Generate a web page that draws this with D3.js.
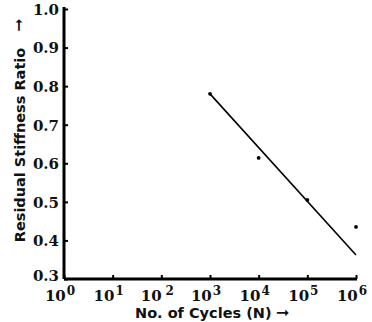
<!DOCTYPE html>
<html>
<head>
<meta charset="utf-8">
<script src="https://cdn.jsdelivr.net/npm/d3@7"></script>
<style>
  body { margin: 0; background: #fff; }
  .tick text { font-family: "DejaVu Serif", serif; font-weight: bold; font-size: 15px; fill: #111; }
  .title { font-family: "DejaVu Sans", Verdana, sans-serif; font-weight: bold; font-size: 14.5px; fill: #111; }
</style>
</head>
<body>
<div id="chart"></div>
<script>
// measured points
var cycles = [1e3, 1e4, 1e5, 1e6];
var stiffness = [0.78, 0.614, 0.505, 0.435];

// fitted straight line
var fitCycles = [1e3, 1e6];
var fitStiffness = [0.78, 0.362];

var yTicks = [0.3, 0.4, 0.5, 0.6, 0.7, 0.8, 0.9, 1.0];
var xTicks = [1e0, 1e1, 1e2, 1e3, 1e4, 1e5, 1e6];
var xExps = ["0", "1", "2", "3", "4", "5", "6"];

var width = 372, height = 322;

var x = d3.scaleLog()
    .domain([1, 1e6])
    .range([64, 356]);

var y = d3.scaleLinear()
    .domain([0.3, 1.0])
    .range([279, 9]);

var svg = d3.select("#chart")
    .append("svg")
        .attr("width", width)
        .attr("height", height);

// y axis
var yAxis = svg.append("g")
    .attr("transform", "translate(64,0)")
    .call(d3.axisLeft(y).tickValues(yTicks).tickFormat(d3.format(".1f")).tickSize(-4).tickPadding(5));
yAxis.select(".domain").attr("stroke", "#000").attr("stroke-width", 3).attr("d", "M0,7V279");
yAxis.selectAll(".tick line").attr("stroke", "#000").attr("stroke-width", 2);
yAxis.selectAll(".tick text").attr("dy", "0.36em");
yAxis.selectAll(".tick text").filter(function(d) { return d == 0.3; }).attr("dy", "0.1em");

// x axis
var xAxis = svg.append("g")
    .attr("transform", "translate(0,279)")
    .call(d3.axisBottom(x).tickValues(xTicks).tickFormat("").tickSize(-4));
xAxis.select(".domain").attr("stroke", "#000").attr("stroke-width", 3).attr("d", "M64,0H357");
xAxis.selectAll(".tick line").attr("stroke", "#000").attr("stroke-width", 2);

var xl = svg.append("g").selectAll("text")
    .data(xTicks)
    .enter().append("text")
        .attr("class", "title")
        .attr("x", function(d) { return x(d) - 4; })
        .attr("y", 301)
        .attr("text-anchor", "middle")
        .style("font-family", "DejaVu Serif, serif")
        .style("font-size", "15px");
xl.append("tspan").text("10");
xl.append("tspan")
    .attr("dy", -6)
    .attr("dx", function(d, i) { return i == 2 ? 4 : 1; })
    .style("font-size", "12px")
    .text(function(d, i) { return xExps[i]; });

// titles
svg.append("text")
    .attr("class", "title")
    .attr("x", 135)
    .attr("y", 318)
    .text("No. of Cycles (N)");

svg.append("text")
    .attr("class", "title")
    .attr("x", 276)
    .attr("y", 318)
    .style("font-size", "16px")
    .text("\u279E");

svg.append("text")
    .attr("class", "title")
    .attr("transform", "translate(25,145) rotate(-90)")
    .attr("text-anchor", "middle")
    .text("Residual Stiffness Ratio");

svg.append("text")
    .attr("class", "title")
    .attr("transform", "translate(24,25) rotate(-90)")
    .attr("text-anchor", "middle")
    .style("font-size", "16px")
    .text("\u279E");

// fitted line
var line = d3.line()
    .x(function(d) { return x(d[0]); })
    .y(function(d) { return y(d[1]); });

svg.append("path")
    .datum(d3.zip(fitCycles, fitStiffness))
    .attr("d", line)
    .attr("fill", "none")
    .attr("stroke", "#000")
    .attr("stroke-width", 1.6);

svg.selectAll(".dot")
    .data(d3.zip(cycles, stiffness))
    .enter().append("circle")
        .attr("class", "dot")
        .attr("cx", function(d) { return x(d[0]); })
        .attr("cy", function(d) { return y(d[1]); })
        .attr("r", 1.9)
        .attr("fill", "#000");
</script>
</body>
</html>
